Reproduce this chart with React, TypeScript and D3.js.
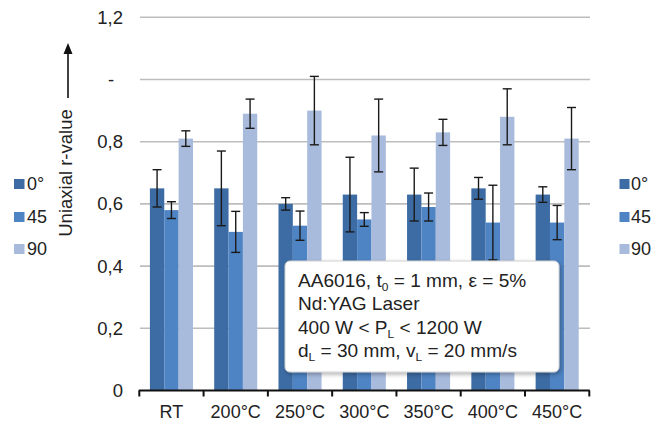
import React from "react";
import * as d3 from "d3";

const categories = ["RT", "200°C", "250°C", "300°C", "350°C", "400°C", "450°C"];
const seriesNames = ["0°", "45°", "90°"];
const legendLabels = ["0°", "45", "90"];
const r0 = [0.65, 0.65, 0.6, 0.63, 0.63, 0.65, 0.63];
const err0 = [0.06, 0.12, 0.02, 0.12, 0.085, 0.035, 0.025];
const r45 = [0.58, 0.51, 0.53, 0.55, 0.59, 0.54, 0.54];
const err45 = [0.027, 0.066, 0.047, 0.022, 0.045, 0.12, 0.055];
const r90 = [0.81, 0.89, 0.9, 0.82, 0.83, 0.88, 0.81];
const err90 = [0.025, 0.047, 0.11, 0.117, 0.042, 0.09, 0.1];
const yTickValues = [0, 0.2, 0.4, 0.6, 0.8, 1.0, 1.2];
const yTickLabels = ["0", "0,2", "0,4", "0,6", "0,8", "-", "1,2"];
const colors = ["#3D6CA4", "#4F84C4", "#A8BBDC"];

const W = 666;
const H = 425;
const FONT = "'Liberation Sans', Arial, Helvetica, sans-serif";

export default function App() {
  const values = [r0, r45, r90];
  const errs = [err0, err45, err90];
  const x0 = d3.scaleBand().domain(categories).range([139.3, 589.3]).paddingInner(0.33).paddingOuter(0.165);
  const x1 = d3.scaleBand().domain(seriesNames).range([0, x0.bandwidth()]);
  const y = d3.scaleLinear().domain([0, 1.2]).range([390.5, 17.3]);
  const step = x0.step();
  const axisStart = 139.3;
  const boundaries = d3.range(categories.length + 1).map((i) => axisStart + i * step);
  const legendY = [184, 217, 249];
  const capW = 4.5;
  const tx = 298;

  return (
    <svg width={W} height={H} style={{ position: "absolute", left: 0, top: 0, background: "#fff" }} fontFamily={FONT}>
      <defs>
        <filter id="shadow" x="-10%" y="-10%" width="130%" height="140%">
          <feDropShadow dx="1.5" dy="2" stdDeviation="2" floodColor="#000" floodOpacity="0.3" />
        </filter>
        <clipPath id="leftLegendClip">
          <rect x={0} y={0} width={47} height={H} />
        </clipPath>
      </defs>
      <rect x={0} y={0} width={W} height={H} fill="#fff" />

      {/* gridlines */}
      {yTickValues.filter((v) => v > 0).map((v) => (
        <line key={"g" + v} x1={140} x2={590} y1={y(v)} y2={y(v)} stroke="#BDBDBD" strokeWidth={1.6} />
      ))}

      {/* y tick labels */}
      {yTickValues.map((v, i) => (
        <text
          key={"yl" + v}
          x={yTickLabels[i] === "-" ? 111 : 123}
          y={y(v)}
          dy="0.35em"
          textAnchor={yTickLabels[i] === "-" ? "middle" : "end"}
          fontSize={18.5}
          fill="#222"
        >
          {yTickLabels[i]}
        </text>
      ))}

      {/* bars */}
      {categories.map((c, ci) => (
        <g key={c} transform={`translate(${x0(c)},0)`}>
          {seriesNames.map((s, si) => (
            <rect
              key={s}
              x={x1(s)}
              y={y(values[si][ci])}
              width={x1.bandwidth()}
              height={y(0) - y(values[si][ci])}
              fill={colors[si]}
            />
          ))}
        </g>
      ))}

      {/* error bars */}
      {categories.map((c, ci) => (
        <g key={"e" + c} transform={`translate(${x0(c)},0)`} stroke="#1a1a1a" strokeWidth={1.4}>
          {seriesNames.map((s, si) => {
            const cx = (x1(s) as number) + x1.bandwidth() / 2;
            const v = values[si][ci];
            const e = errs[si][ci];
            return (
              <g key={s}>
                <line x1={cx} x2={cx} y1={y(v + e)} y2={y(v - e)} />
                <line x1={cx - capW} x2={cx + capW} y1={y(v + e)} y2={y(v + e)} />
                <line x1={cx - capW} x2={cx + capW} y1={y(v - e)} y2={y(v - e)} />
              </g>
            );
          })}
        </g>
      ))}

      {/* x axis */}
      <line x1={axisStart - 0.5} x2={boundaries[boundaries.length - 1] + 0.5} y1={y(0)} y2={y(0)} stroke="#111" strokeWidth={2} />
      {boundaries.map((bx, i) => (
        <line key={"t" + i} x1={bx} x2={bx} y1={y(0)} y2={y(0) + 6} stroke="#111" strokeWidth={2} />
      ))}
      {categories.map((c) => (
        <text key={"xl" + c} x={(x0(c) as number) + x0.bandwidth() / 2} y={418} textAnchor="middle" fontSize={18} fill="#222">
          {c}
        </text>
      ))}

      {/* y axis title with arrow */}
      <text transform="translate(72,173) rotate(-90)" textAnchor="middle" fontSize={18.5} fill="#222">
        Uniaxial r-value
      </text>
      <line x1={68} x2={68} y1={98} y2={52} stroke="#111" strokeWidth={1.6} />
      <path d="M63.5,54 L68,43 L72.5,54 Z" fill="#111" />

      {/* left legend */}
      <g clipPath="url(#leftLegendClip)">
        {legendLabels.map((l, i) => (
          <g key={"ll" + l}>
            <rect x={14} y={legendY[i] - 5} width={10.5} height={10} fill={colors[i]} />
            <text x={27} y={legendY[i]} dy="0.36em" fontSize={18} fill="#222">
              {l}
            </text>
          </g>
        ))}
      </g>

      {/* right legend */}
      {legendLabels.map((l, i) => (
        <g key={"rl" + l}>
          <rect x={619.5} y={legendY[i] - 5} width={10} height={10} fill={colors[i]} />
          <text x={631} y={legendY[i]} dy="0.36em" fontSize={18} fill="#222">
            {l}
          </text>
        </g>
      ))}

      {/* annotation box */}
      <rect x={285} y={261} width={274} height={111} rx={5} ry={5} fill="#fff" stroke="#D0D0D0" strokeWidth={1} filter="url(#shadow)" />
      <g fontSize={17.5} fill="#222" transform={`translate(${tx},0) scale(1.09,1) translate(${-tx},0)`}>
        <text x={tx} y={287}>
          AA6016, t<tspan fontSize={11} dy={4}>0</tspan>
          <tspan dy={-4}>{" = 1 mm,  ε = 5%"}</tspan>
        </text>
        <text x={tx} y={310}>Nd:YAG Laser</text>
        <text x={tx} y={334}>
          {"400 W < P"}
          <tspan fontSize={11} dy={4}>L</tspan>
          <tspan dy={-4}>{" < 1200 W"}</tspan>
        </text>
        <text x={tx} y={357}>
          d<tspan fontSize={11} dy={4}>L</tspan>
          <tspan dy={-4}>{" = 30 mm,  v"}</tspan>
          <tspan fontSize={11} dy={4}>L</tspan>
          <tspan dy={-4}>{" = 20 mm/s"}</tspan>
        </text>
      </g>
    </svg>
  );
}
